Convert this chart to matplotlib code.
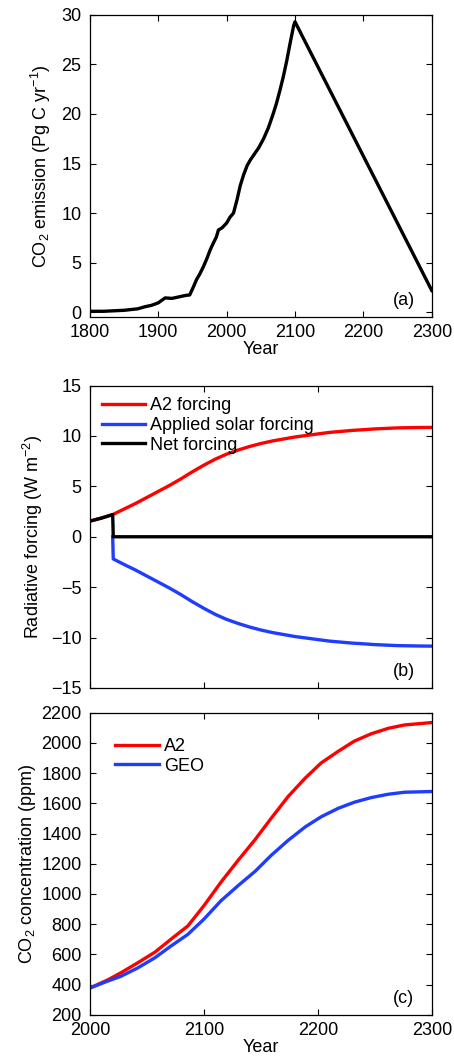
import matplotlib
matplotlib.use("Agg")
import matplotlib.pyplot as plt

plt.rcParams['font.family'] = ['Liberation Sans', 'DejaVu Sans']
plt.rcParams['mathtext.fontset'] = 'custom'
plt.rcParams['mathtext.rm'] = 'Liberation Sans'
plt.rcParams['mathtext.it'] = 'Liberation Sans'

# (a) CO2 emission, Pg C / yr
emis_years = [1800, 1820, 1850, 1870, 1880, 1890, 1900, 1905, 1910, 1920, 1930, 1940, 1946,
              1951, 1956, 1961, 1966, 1971, 1976, 1980, 1985, 1988, 1993, 2000, 2005, 2010,
              2015, 2020, 2025, 2030, 2035, 2040, 2047, 2054, 2061, 2068, 2073, 2078, 2083,
              2088, 2093, 2098, 2100, 2300]
emis_vals = [0.1, 0.1, 0.2, 0.35, 0.55, 0.7, 0.95, 1.2, 1.45, 1.4, 1.55, 1.7, 1.75,
             2.5, 3.3, 3.9, 4.6, 5.4, 6.3, 6.9, 7.6, 8.3, 8.5, 9.0, 9.6, 10.0,
             11.3, 12.8, 13.9, 14.8, 15.4, 15.9, 16.6, 17.5, 18.6, 20.0, 21.1, 22.4, 23.8,
             25.4, 27.2, 28.9, 29.3, 2.2]

# (b) radiative forcing, W m-2
a2_years = [2000, 2010, 2020, 2030, 2040, 2050, 2060, 2070, 2080, 2090, 2100, 2110, 2120,
            2130, 2140, 2150, 2160, 2170, 2180, 2190, 2200, 2210, 2220, 2230, 2240, 2250,
            2260, 2270, 2280, 2290, 2300]
a2_forcing = [1.55, 1.85, 2.2, 2.75, 3.3, 3.9, 4.5, 5.1, 5.75, 6.45, 7.1, 7.7, 8.2,
              8.6, 8.95, 9.25, 9.5, 9.7, 9.9, 10.05, 10.2, 10.35, 10.45, 10.55, 10.62, 10.7,
              10.75, 10.8, 10.82, 10.84, 10.85]
solar_years = [2020, 2020.5, 2030, 2040, 2050, 2060, 2070, 2080, 2090, 2100, 2110, 2120,
               2130, 2140, 2150, 2160, 2170, 2180, 2190, 2200, 2210, 2220, 2230, 2240, 2250,
               2260, 2270, 2280, 2290, 2300]
solar_forcing = [0.0, -2.2, -2.75, -3.3, -3.9, -4.5, -5.1, -5.75, -6.45, -7.1, -7.7, -8.2,
                 -8.6, -8.95, -9.25, -9.5, -9.7, -9.9, -10.05, -10.2, -10.35, -10.45, -10.55,
                 -10.62, -10.7, -10.75, -10.8, -10.82, -10.84, -10.85]
net_years = [2000, 2010, 2020, 2020.5, 2300]
net_forcing = [1.55, 1.85, 2.2, 0.0, 0.0]

# (c) CO2 concentration, ppm
conc_years = [2000, 2016, 2027, 2042, 2057, 2071, 2086, 2100, 2115, 2130, 2145, 2159,
              2174, 2189, 2203, 2218, 2232, 2247, 2262, 2276, 2300]
conc_a2 = [378, 433, 478, 545, 615, 700, 789, 922, 1078, 1222, 1360, 1500,
           1645, 1767, 1867, 1944, 2011, 2060, 2096, 2118, 2134]
conc_geo = [378, 425, 455, 511, 578, 655, 733, 833, 955, 1055, 1150, 1255,
            1355, 1444, 1511, 1567, 1607, 1638, 1660, 1673, 1678]

red = '#ff0000'
blue = '#1f3dff'
lw = 2.4
fs = 13

fig = plt.figure(figsize=(4.54, 10.61), dpi=100)
ax1 = fig.add_axes([0.198, 0.701, 0.753, 0.285])
ax2 = fig.add_axes([0.198, 0.3516, 0.753, 0.285])
ax3 = fig.add_axes([0.198, 0.0434, 0.753, 0.285])

for ax in (ax1, ax2, ax3):
    ax.tick_params(direction='in', top=True, right=True, labelsize=fs, length=4, width=0.8)
    ax.tick_params(axis='y', pad=6)
    ax.tick_params(axis='x', pad=5)
    for s in ax.spines.values():
        s.set_linewidth(0.9)

ax1.plot(emis_years, emis_vals, color='black', lw=lw)
ax1.set_xlim(1800, 2300)
ax1.set_ylim(-0.5, 30)
ax1.set_xticks([1800, 1900, 2000, 2100, 2200, 2300])
ax1.set_yticks([0, 5, 10, 15, 20, 25, 30])
ax1.set_xlabel('Year', fontsize=13, labelpad=0)
ax1.set_ylabel(r'CO$_{2}$ emission (Pg C yr$^{-1}$)', fontsize=13, labelpad=6)
ax1.text(0.918, 0.056, '(a)', transform=ax1.transAxes, ha='center', va='center', fontsize=13)

ax2.plot(a2_years, a2_forcing, color=red, lw=lw, label='A2 forcing')
ax2.plot(solar_years, solar_forcing, color=blue, lw=lw, label='Applied solar forcing')
ax2.plot(net_years, net_forcing, color='black', lw=lw, label='Net forcing')
ax2.set_xlim(2000, 2300)
ax2.set_ylim(-15, 15)
ax2.set_xticks([2000, 2100, 2200, 2300])
ax2.set_xticklabels([])
ax2.set_yticks([-15, -10, -5, 0, 5, 10, 15])
ax2.set_yticklabels(['\u221215', '\u221210', '\u22125', '0', '5', '10', '15'])
ax2.set_ylabel(r'Radiative forcing (W m$^{-2}$)', fontsize=13, labelpad=4)
ax2.legend(loc='upper left', frameon=False, fontsize=fs, handlelength=2.4,
           handletextpad=0.3, labelspacing=0.15, borderaxespad=0.25)
ax2.text(0.918, 0.056, '(b)', transform=ax2.transAxes, ha='center', va='center', fontsize=13)

ax3.plot(conc_years, conc_a2, color=red, lw=lw, label='A2')
ax3.plot(conc_years, conc_geo, color=blue, lw=lw, label='GEO')
ax3.set_xlim(2000, 2300)
ax3.set_ylim(200, 2200)
ax3.set_xticks([2000, 2100, 2200, 2300])
ax3.set_yticks(range(200, 2201, 200))
ax3.set_xlabel('Year', fontsize=13, labelpad=0)
ax3.set_ylabel(r'CO$_{2}$ concentration (ppm)', fontsize=13, labelpad=2)
ax3.legend(loc='upper left', frameon=False, fontsize=fs, handlelength=2.4,
           handletextpad=0.3, labelspacing=0.15, borderaxespad=1.0)
ax3.text(0.918, 0.056, '(c)', transform=ax3.transAxes, ha='center', va='center', fontsize=13)

fig.savefig('out.png', dpi=100)
